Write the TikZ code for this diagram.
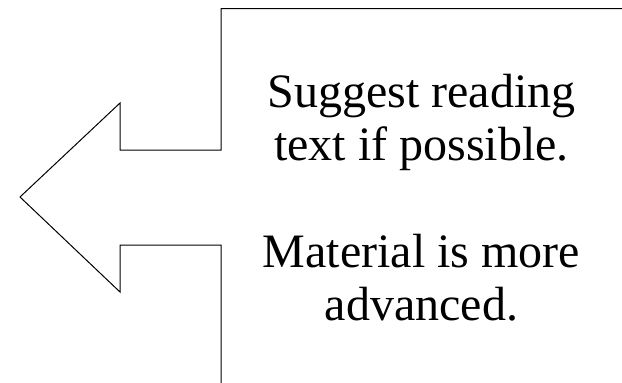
\documentclass[tikz,border=0pt]{standalone}
\usepackage{fontspec}
\setmainfont{Liberation Serif}
\begin{document}
\begin{tikzpicture}[x=1pt,y=-1pt,
  callout/.style={draw=black,line width=1pt,line join=miter},
  txt/.style={anchor=base,inner sep=0pt,font=\fontsize{48}{53}\selectfont}]
\useasboundingbox (0,0) rectangle (622,383);
\begin{scope}
\clip (0,0) rectangle (622,383);
\coordinate (tr) at (640,8.7);
\coordinate (tl) at (221,8.7);
\coordinate (n1) at (221,150);
\coordinate (n2) at (120,150);
\coordinate (h1) at (120,103);
\coordinate (tip) at (20,197);
\coordinate (h2) at (120,292);
\coordinate (n3) at (120,245);
\coordinate (n4) at (221,245);
\coordinate (bl) at (221,400);
\draw[callout] (tr) -- (tl) -- (n1) -- (n2) -- (h1) -- (tip) -- (h2) -- (n3) -- (n4) -- (bl);
\end{scope}
\node[txt] (l1) at (421.5,107) {Suggest reading};
\node[txt] (l2) at (421.5,160) {text if possible.};
\node[txt] (l3) at (421.5,267) {Material is more};
\node[txt] (l4) at (421.5,320) {advanced.};
\end{tikzpicture}
\end{document}
